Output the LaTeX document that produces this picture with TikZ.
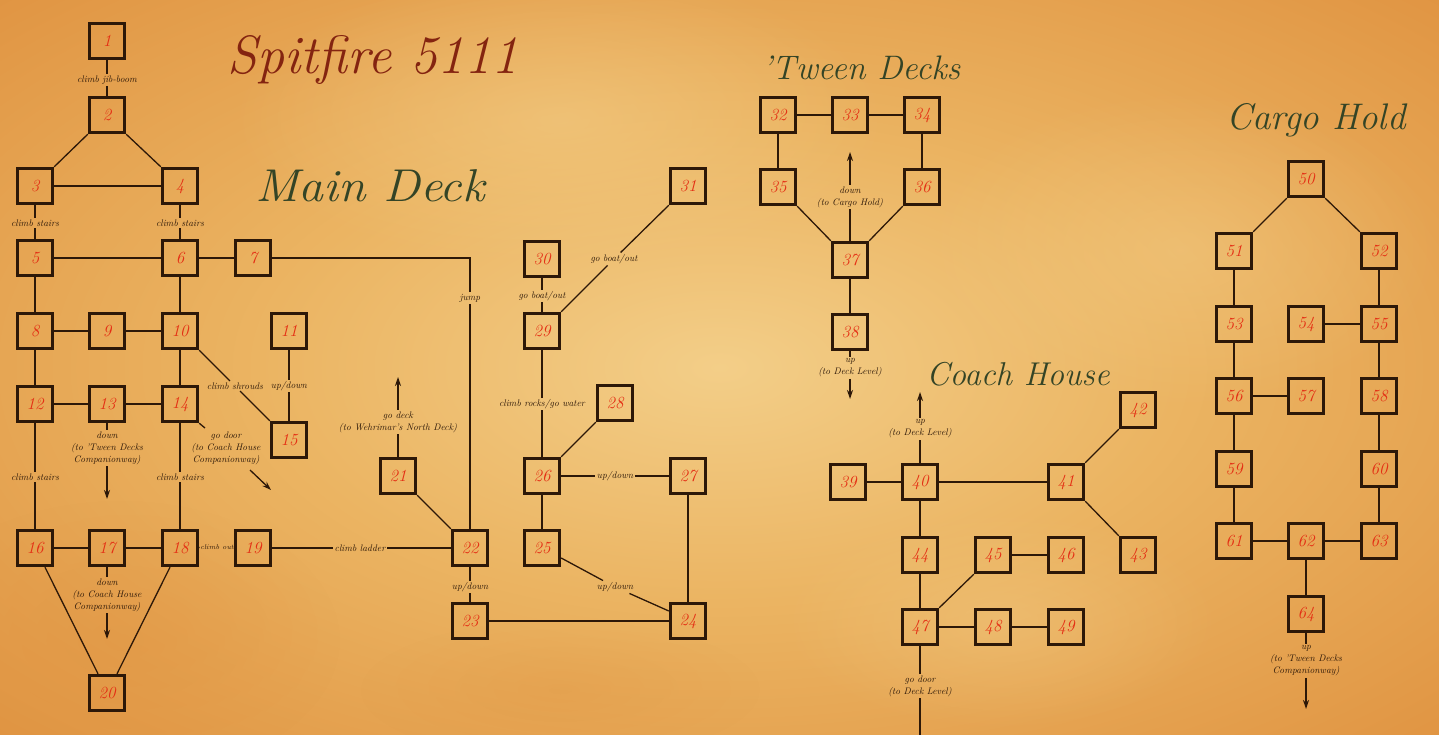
\documentclass[tikz,border=0pt]{standalone}
\usetikzlibrary{arrows.meta,fadings}
\definecolor{parch}{RGB}{235,180,98}
\definecolor{parchlight}{RGB}{243,206,136}
\definecolor{parchdark}{RGB}{224,148,66}
\definecolor{ink}{RGB}{45,24,8}
\definecolor{numred}{RGB}{228,46,20}
\definecolor{titlered}{RGB}{132,36,16}
\definecolor{titlegreen}{RGB}{52,68,38}
\pgfdeclareradialshading{parchment}{\pgfpoint{0bp}{0bp}}{color(0bp)=(parchlight); color(16bp)=(parch); color(36bp)=(parchdark); color(50bp)=(parchdark)}
\tikzfading[name=softblob, inner color=transparent!0, outer color=transparent!100]
\begin{document}
\begin{tikzpicture}[x=1pt,y=-1pt,
  room/.style={draw=ink, line width=2.9pt, minimum size=35.5pt, inner sep=0pt,
    text=numred, font=\fontsize{17}{17}\selectfont\itshape},
  edge/.style={draw=ink, line width=1.3pt},
  goes/.style={edge, -{Stealth[length=9pt,width=6pt]}},
  lbl/.style={text=ink, font=\fontsize{9.5}{12}\selectfont\itshape, inner sep=1.5pt, align=center},
  title/.style={font=\fontsize{46}{46}\selectfont\itshape, inner sep=0pt}]

% parchment
\useasboundingbox (0,0) rectangle (1439,735);
\shade[shading=parchment] (0,0) rectangle (1439,735);
\fill[parchlight, path fading=softblob, opacity=0.55] (560,120) ellipse (330 and 150);
\fill[parchlight, path fading=softblob, opacity=0.45] (1180,250) ellipse (260 and 160);
\fill[parchlight, path fading=softblob, opacity=0.4] (1000,620) ellipse (220 and 110);
\fill[parchdark, path fading=softblob, opacity=0.45] (120,640) ellipse (220 and 140);
\fill[parchdark, path fading=softblob, opacity=0.3] (560,690) ellipse (200 and 70);

% headings
\node[title, text=titlered, font=\fontsize{54}{54}\selectfont\itshape] (tSpit) at (373,60) {Spitfire 5111};
\node[title, text=titlegreen, xscale=1.08] (tMain) at (370,186) {Main Deck};
\node[title, text=titlegreen, font=\fontsize{34}{34}\selectfont\itshape] (tTween) at (861,68) {'Tween Decks};
\node[title, text=titlegreen, font=\fontsize{33}{33}\selectfont\itshape] (tCoach) at (1018,374) {Coach House};
\node[title, text=titlegreen, font=\fontsize{37}{37}\selectfont\itshape] (tCargo) at (1316,120) {Cargo Hold};

% ---------------- Main Deck ----------------
\node[room] (n1) at (107,41) {1};
\node[room] (n2) at (107,115) {2};
\node[room] (n3) at (35,186) {3};
\node[room] (n4) at (180,186) {4};
\node[room] (n5) at (35,258) {5};
\node[room] (n6) at (180,258) {6};
\node[room] (n7) at (253,258) {7};
\node[room] (n8) at (35,331) {8};
\node[room] (n9) at (107,331) {9};
\node[room] (n10) at (180,331) {10};
\node[room] (n11) at (289,331) {11};
\node[room] (n12) at (35,404) {12};
\node[room] (n13) at (107,404) {13};
\node[room] (n14) at (180,404) {14};
\node[room] (n15) at (289,440) {15};
\node[room] (n16) at (35,548) {16};
\node[room] (n17) at (107,548) {17};
\node[room] (n18) at (180,548) {18};
\node[room] (n19) at (253,548) {19};
\node[room] (n20) at (107,693) {20};
\node[room] (n21) at (398,476) {21};
\node[room] (n22) at (470,548) {22};
\node[room] (n23) at (470,621) {23};
\node[room] (n24) at (688,621) {24};
\node[room] (n25) at (542,548) {25};
\node[room] (n26) at (542,476) {26};
\node[room] (n27) at (688,476) {27};
\node[room] (n28) at (615,403) {28};
\node[room] (n29) at (542,331) {29};
\node[room] (n30) at (542,259) {30};
\node[room] (n31) at (688,186) {31};

% labels on the main deck
\node[lbl] (l12) at (107,80) {climb jib-boom};
\node[lbl] (l35) at (35,223) {climb stairs};
\node[lbl] (l46) at (180,223) {climb stairs};
\node[lbl] (ljump) at (470,298) {jump};
\node[lbl] (lshr) at (235,386) {climb shrouds};
\node[lbl] (l1115) at (289,386) {up/down};
\node[lbl] (l13) at (107,448) {down\\(to 'Tween Decks\\Companionway)};
\node[lbl] (l14) at (226,448) {go door\\(to Coach House\\Companionway)};
\node[lbl] (l1216) at (35,477) {climb stairs};
\node[lbl] (l1418) at (180,477) {climb stairs};
\node[lbl, font=\fontsize{7}{8}\selectfont\itshape, inner sep=0.5pt] (l1819) at (217,547) {climb out};
\node[lbl] (l1922) at (360,548) {climb ladder};
\node[lbl] (l17) at (107,595) {down\\(to Coach House\\Companionway)};
\node[lbl] (l21) at (398,422) {go deck\\(to Wehrimar's North Deck)};
\node[lbl] (l2223) at (470,587) {up/down};
\node[lbl] (l2627) at (615,476) {up/down};
\node[lbl] (l2524) at (615,587) {up/down};
\node[lbl] (l2629) at (542,404) {climb rocks/go water};
\node[lbl] (l2930) at (542,296) {go boat/out};
\node[lbl] (l2931) at (614,259) {go boat/out};

\coordinate (c7) at (470,258);
\coordinate (a13) at (107,499);
\coordinate (a14s) at (205,428);
\coordinate (a14a) at (250,470);
\coordinate (a14) at (271,490);
\coordinate (a17) at (107,639);
\coordinate (a21) at (398,377);

\draw[edge] (n1) -- (l12); \draw[edge] (l12) -- (n2);
\draw[edge] (n2.south west) -- (n3.north east);
\draw[edge] (n2.south east) -- (n4.north west);
\draw[edge] (n3) -- (n4);
\draw[edge] (n3) -- (l35); \draw[edge] (l35) -- (n5);
\draw[edge] (n4) -- (l46); \draw[edge] (l46) -- (n6);
\draw[edge] (n5) -- (n6);
\draw[edge] (n6) -- (n7);
\draw[edge] (n7) -- (c7) -- (ljump); \draw[edge] (ljump) -- (n22);
\draw[edge] (n5) -- (n8);
\draw[edge] (n6) -- (n10);
\draw[edge] (n8) -- (n9);
\draw[edge] (n9) -- (n10);
\draw[edge] (n8) -- (n12);
\draw[edge] (n10) -- (n14);
\draw[edge] (n12) -- (n13);
\draw[edge] (n13) -- (n14);
\draw[edge] (n10.south east) -- (lshr); \draw[edge] (lshr) -- (n15.north west);
\draw[edge] (n11) -- (l1115); \draw[edge] (l1115) -- (n15);
\draw[edge] (n13) -- (l13); \draw[goes] (l13) -- (a13);
\draw[edge] (n14.south east) -- (a14s);
\draw[goes] (a14a) -- (a14);
\draw[edge] (n12) -- (l1216); \draw[edge] (l1216) -- (n16);
\draw[edge] (n14) -- (l1418); \draw[edge] (l1418) -- (n18);
\draw[edge] (n16) -- (n17);
\draw[edge] (n17) -- (n18);
\draw[edge] (n18) -- (l1819); \draw[edge] (l1819) -- (n19);
\draw[edge] (n19) -- (l1922); \draw[edge] (l1922) -- (n22);
\draw[edge] ([xshift=10pt]n16.south) -- ([xshift=-9pt]n20.north);
\draw[edge] ([xshift=-10pt]n18.south) -- ([xshift=10pt]n20.north);
\draw[edge] (n17) -- (l17); \draw[goes] (l17) -- (a17);
\draw[edge] (n21) -- (l21); \draw[goes] (l21) -- (a21);
\draw[edge] (n21.south east) -- (n22.north west);
\draw[edge] (n22) -- (l2223); \draw[edge] (l2223) -- (n23);
\draw[edge] (n23) -- (n24);
\draw[edge] (n24) -- (n27);
\draw[edge] ([yshift=-10pt]n25.east) -- (l2524); \draw[edge] (l2524) -- ([yshift=10pt]n24.west);
\draw[edge] (n26) -- (l2627); \draw[edge] (l2627) -- (n27);
\draw[edge] (n25) -- (n26);
\draw[edge] (n26.north east) -- (n28.south west);
\draw[edge] (n26) -- (l2629); \draw[edge] (l2629) -- (n29);
\draw[edge] (n29) -- (l2930); \draw[edge] (l2930) -- (n30);
\draw[edge] (n29.north east) -- (l2931); \draw[edge] (l2931) -- (n31.south west);

% ---------------- 'Tween Decks ----------------
\node[room] (n32) at (778,115) {32};
\node[room] (n33) at (850,115) {33};
\node[room] (n34) at (922,115) {34};
\node[room] (n35) at (778,187) {35};
\node[room] (n36) at (922,187) {36};
\node[room] (n37) at (850,260) {37};
\node[room] (n38) at (850,332) {38};
\node[lbl] (l37) at (850,197) {down\\(to Cargo Hold)};
\node[lbl] (l38) at (850,368) {up\\(to Deck Level)};
\coordinate (a37) at (850,152);
\coordinate (a38) at (850,399);
\draw[edge] (n32) -- (n33);
\draw[edge] (n33) -- (n34);
\draw[edge] (n32) -- (n35);
\draw[edge] (n34) -- (n36);
\draw[edge] (n35.south east) -- (n37.north west);
\draw[edge] (n36.south west) -- (n37.north east);
\draw[edge] (n37) -- (n38);
\draw[edge] (n37) -- (l37); \draw[goes] (l37) -- (a37);
\draw[edge] (n38) -- (l38); \draw[goes] (l38) -- (a38);

% ---------------- Coach House ----------------
\node[room] (n39) at (848,482) {39};
\node[room] (n40) at (920,482) {40};
\node[room] (n41) at (1066,482) {41};
\node[room] (n42) at (1138,410) {42};
\node[room] (n43) at (1138,555) {43};
\node[room] (n44) at (920,555) {44};
\node[room] (n45) at (993,555) {45};
\node[room] (n46) at (1066,555) {46};
\node[room] (n47) at (920,627) {47};
\node[room] (n48) at (993,627) {48};
\node[room] (n49) at (1066,627) {49};
\node[lbl] (l40) at (920,429) {up\\(to Deck Level)};
\node[lbl] (l47) at (920,686) {go door\\(to Deck Level)};
\coordinate (a40) at (920,392);
\coordinate (e47) at (920,736);
\draw[edge] (n39) -- (n40);
\draw[edge] (n40) -- (n41);
\draw[edge] (n41.north east) -- (n42.south west);
\draw[edge] (n41.south east) -- (n43.north west);
\draw[edge] (n40) -- (n44);
\draw[edge] (n44) -- (n47);
\draw[edge] (n47.north east) -- (n45.south west);
\draw[edge] (n45) -- (n46);
\draw[edge] (n47) -- (n48);
\draw[edge] (n48) -- (n49);
\draw[edge] (n40) -- (l40); \draw[goes] (l40) -- (a40);
\draw[edge] (n47) -- (l47); \draw[edge] (l47) -- (e47);

% ---------------- Cargo Hold ----------------
\node[room] (n50) at (1306,179) {50};
\node[room] (n51) at (1234,251) {51};
\node[room] (n52) at (1379,251) {52};
\node[room] (n53) at (1234,324) {53};
\node[room] (n54) at (1306,324) {54};
\node[room] (n55) at (1379,324) {55};
\node[room] (n56) at (1234,396) {56};
\node[room] (n57) at (1306,396) {57};
\node[room] (n58) at (1379,396) {58};
\node[room] (n59) at (1234,469) {59};
\node[room] (n60) at (1379,469) {60};
\node[room] (n61) at (1234,541) {61};
\node[room] (n62) at (1306,541) {62};
\node[room] (n63) at (1379,541) {63};
\node[room] (n64) at (1306,614) {64};
\node[lbl] (l64) at (1306,661) {up\\(to 'Tween Decks\\Companionway)};
\coordinate (a64) at (1306,709);
\draw[edge] (n50.south west) -- (n51.north east);
\draw[edge] (n50.south east) -- (n52.north west);
\draw[edge] (n51) -- (n53);
\draw[edge] (n52) -- (n55);
\draw[edge] (n54) -- (n55);
\draw[edge] (n53) -- (n56);
\draw[edge] (n55) -- (n58);
\draw[edge] (n56) -- (n57);
\draw[edge] (n56) -- (n59);
\draw[edge] (n58) -- (n60);
\draw[edge] (n59) -- (n61);
\draw[edge] (n60) -- (n63);
\draw[edge] (n61) -- (n62);
\draw[edge] (n62) -- (n63);
\draw[edge] (n62) -- (n64);
\draw[edge] (n64) -- (l64); \draw[goes] (l64) -- (a64);
\end{tikzpicture}
\end{document}
